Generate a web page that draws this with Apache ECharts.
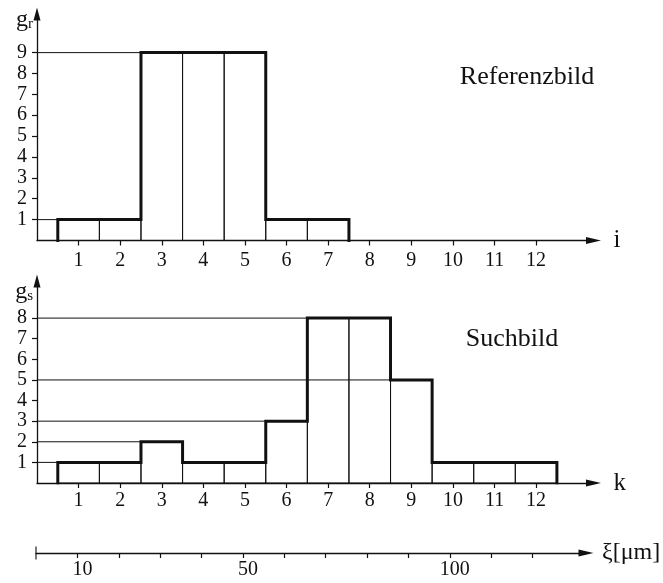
<!DOCTYPE html>
<html><head><meta charset="utf-8">
<script src="https://cdn.jsdelivr.net/npm/echarts@6/dist/echarts.min.js"></script>
<style>html,body{margin:0;padding:0;background:#fff}#c{width:663px;height:583px}</style>
</head><body><div id="c"></div>
<script>
// ---- data ----
const refIndex = [1, 2, 3, 4, 5, 6, 7, 8, 9, 10, 11, 12];
const refValues = [1, 1, 9, 9, 9, 1, 1, 0, 0, 0, 0, 0];
const searchIndex = [1, 2, 3, 4, 5, 6, 7, 8, 9, 10, 11, 12];
const searchValues = [1, 1, 2, 1, 1, 3, 8, 8, 5, 1, 1, 1];
const refYTicks = [1, 2, 3, 4, 5, 6, 7, 8, 9];
const searchYTicks = [1, 2, 3, 4, 5, 6, 7, 8];
const xiTicks = [10, 20, 30, 40, 50, 60, 70, 80, 90, 100, 110, 120];
const xiLabels = [10, 50, 100];
const refTitle = 'Referenzbild';
const searchTitle = 'Suchbild';

// ---- helpers ----
const INK = '#111';
const FONT = "'Liberation Serif', 'DejaVu Serif', serif";

function barData(idx, vals) {
  const out = [];
  idx.forEach((k, j) => { if (vals[j] > 0) out.push([k, vals[j]]); });
  return out;
}
function outline(idx, vals) {
  const pts = []; let prev = 0; let lastK = null;
  idx.forEach((k, j) => {
    const v = vals[j];
    if (v <= 0) return;
    pts.push([k - 0.5, prev], [k - 0.5, v], [k + 0.5, v]);
    prev = v; lastK = k;
  });
  if (lastK !== null) pts.push([lastK + 0.5, 0]);
  return pts;
}
function levelLines(idx, vals) {
  const seen = {}; const out = [];
  idx.forEach((k, j) => {
    const v = vals[j];
    if (v > 0 && !seen[v]) { seen[v] = 1; out.push([k - 0.5, v]); }
  });
  return out;
}
const rectSeries = (gi, data) => ({
  type: 'custom', xAxisIndex: gi, yAxisIndex: gi, data, z: 3,
  renderItem(params, api) {
    const a = api.coord([api.value(0) - 0.5, api.value(1)]);
    const b = api.coord([api.value(0) + 0.5, 0]);
    return { type: 'rect', shape: { x: a[0], y: a[1], width: b[0] - a[0], height: b[1] - a[1] },
      style: { fill: 'none', stroke: INK, lineWidth: 1 } };
  }
});
const levelSeries = (gi, data) => ({
  type: 'custom', xAxisIndex: gi, yAxisIndex: gi, data, z: 3,
  renderItem(params, api) {
    const a = api.coord([0, api.value(1)]);
    const b = api.coord([api.value(0), api.value(1)]);
    return { type: 'line', shape: { x1: a[0], y1: a[1], x2: b[0], y2: b[1] },
      style: { stroke: INK, lineWidth: 1 } };
  }
});
const envSeries = (gi, data) => ({
  type: 'line', xAxisIndex: gi, yAxisIndex: gi, data, z: 5,
  showSymbol: false, symbol: 'none', silent: true,
  lineStyle: { color: INK, width: 3, join: 'miter', cap: 'square' }
});
const xAx = (gi, max, name, ticks, margin, namePad) => ({
  type: 'value', gridIndex: gi, min: 0, max,
  splitLine: { show: false },
  axisLine: { show: true, onZero: false, symbol: ['none', 'triangle'], symbolSize: [7, 15],
    lineStyle: { color: INK, width: 1.3 } },
  axisTick: { show: true, inside: false, length: 5, customValues: ticks, lineStyle: { color: INK, width: 1.2 } },
  axisLabel: { customValues: ticks, interval: 0, margin, color: INK, fontFamily: FONT, fontSize: 20,
    showMinLabel: true, showMaxLabel: true, hideOverlap: false },
  name, nameLocation: 'end', nameGap: 20,
  nameTextStyle: { color: INK, fontFamily: FONT, fontSize: 25, verticalAlign: 'middle', padding: namePad }
});
const yAx = (gi, max, name, ticks, gap) => ({
  type: 'value', gridIndex: gi, min: 0, max,
  splitLine: { show: false },
  axisLine: { show: true, onZero: false, symbol: ['none', 'triangle'], symbolSize: [7, 13],
    lineStyle: { color: INK, width: 1.3 } },
  axisTick: { show: true, inside: false, length: 5, customValues: ticks, lineStyle: { color: INK, width: 1.2 } },
  axisLabel: { customValues: ticks, interval: 0, margin: 10, color: INK, fontFamily: FONT, fontSize: 20,
    lineHeight: 18, showMinLabel: true, showMaxLabel: true, hideOverlap: false },
  name, nameLocation: 'end', nameGap: gap,
  nameTextStyle: { color: INK, fontFamily: FONT, align: 'right', verticalAlign: 'middle', padding: [0, 4, 0, 0],
    rich: { g: { fontFamily: FONT, fontSize: 24, color: INK }, s: { fontFamily: FONT, fontSize: 15, color: INK, padding: [8, 0, 0, 0] } } }
});

const chart = echarts.init(document.getElementById('c'), null, { renderer: 'canvas' });
chart.setOption({
  animation: false,
  backgroundColor: '#fff',
  grid: [
    { left: 37, top: 14, width: 556.5, height: 226.5, outerBoundsMode: 'none', containLabel: false },
    { left: 37, top: 281, width: 556.5, height: 202, outerBoundsMode: 'none', containLabel: false },
    { left: 36, top: 533, width: 550, height: 20, outerBoundsMode: 'none', containLabel: false }
  ],
  xAxis: [
    xAx(0, 13.38, 'i', refIndex, 10, [0, 0, 0, 0]),
    xAx(1, 13.38, 'k', searchIndex, 8, [14, 0, 0, 0]),
    {
      type: 'value', gridIndex: 2, min: 0, max: 132.9,
      splitLine: { show: false },
      axisLine: { show: true, onZero: false, symbol: ['none', 'triangle'], symbolSize: [7, 15],
        lineStyle: { color: INK, width: 1.3 } },
      axisTick: { show: true, length: 5, customValues: xiTicks, lineStyle: { color: INK, width: 1.2 } },
      axisLabel: { customValues: xiLabels, interval: 0, margin: 7, padding: [0, 0, 0, 10], color: INK, fontFamily: FONT, fontSize: 20,
        showMinLabel: true, showMaxLabel: true },
      name: 'ξ[μm]', nameLocation: 'end', nameGap: 16,
      nameTextStyle: { color: INK, fontFamily: FONT, fontSize: 24, align: 'left', verticalAlign: 'middle' }
    }
  ],
  yAxis: [
    yAx(0, 10.85, '{g|g}{s|r}', refYTicks, -6),
    yAx(1, 9.8, '{g|g}{s|s}', searchYTicks, -11),
    { type: 'value', gridIndex: 2, min: 0, max: 1, show: false }
  ],
  graphic: [
    { type: 'text', x: 527, y: 77, style: { text: refTitle, fontFamily: FONT, fontSize: 26, fill: INK, align: 'center', verticalAlign: 'middle' } },
    { type: 'text', x: 512, y: 339, style: { text: searchTitle, fontFamily: FONT, fontSize: 26, fill: INK, align: 'center', verticalAlign: 'middle' } }
  ],
  series: [
    rectSeries(0, barData(refIndex, refValues)),
    levelSeries(0, levelLines(refIndex, refValues)),
    envSeries(0, outline(refIndex, refValues)),
    rectSeries(1, barData(searchIndex, searchValues)),
    levelSeries(1, levelLines(searchIndex, searchValues)),
    envSeries(1, outline(searchIndex, searchValues)),
    { type: 'scatter', xAxisIndex: 2, yAxisIndex: 2, data: [[0, 0]], symbol: 'rect', symbolSize: [1.4, 13],
      itemStyle: { color: INK }, silent: true }
  ]
});
</script>
</body></html>
